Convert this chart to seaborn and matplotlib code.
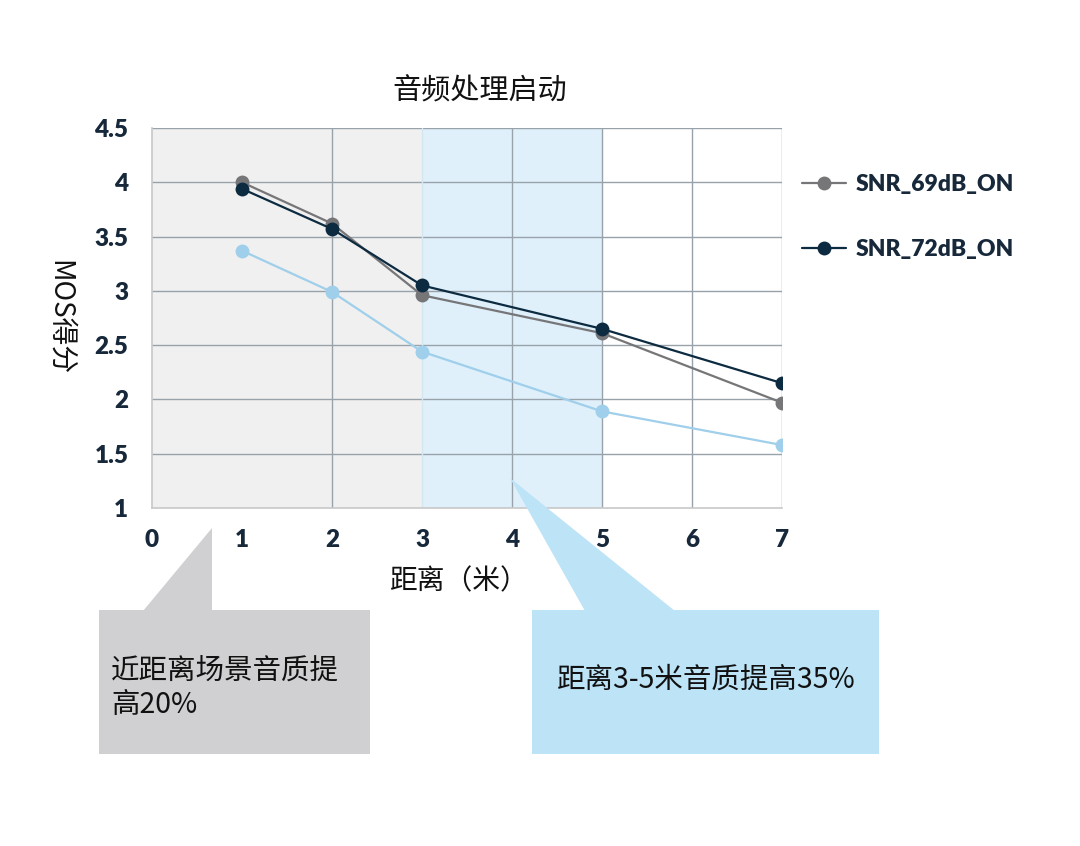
import pandas as pd
import matplotlib
matplotlib.use('Agg')
import matplotlib.pyplot as plt
from matplotlib.lines import Line2D
from matplotlib.patches import Polygon, Rectangle
import seaborn as sns

# values
distance = [1, 2, 3, 5, 7]
snr69 = [4.00, 3.62, 2.96, 2.61, 1.97]
snr72 = [3.94, 3.57, 3.05, 2.65, 2.15]
baseline = [3.37, 2.99, 2.44, 1.89, 1.58]

series_names = ['baseline', 'SNR_69dB_ON', 'SNR_72dB_ON']
colors = ['#9fcfea', '#767679', '#0c2a40']

xticks = [0, 1, 2, 3, 4, 5, 6, 7]
yticks = [1, 1.5, 2, 2.5, 3, 3.5, 4, 4.5]
ytick_labels = ['1', '1.5', '2', '2.5', '3', '3.5', '4', '4.5']

title = '音频处理启动'
xlabel = '距离（米）'
ylabel = 'MOS得分'
note_near = '近距离场景音质提\n高20%'
note_mid = '距离3-5米音质提高35%'

df = pd.DataFrame({
    'distance': distance * 3,
    'MOS': baseline + snr69 + snr72,
    'series': [s for s in series_names for _ in distance],
})

sns.set_style('white')
plt.rcParams['font.family'] = ['Noto Sans CJK SC', 'DejaVu Sans']

W, H = 1080, 846
fig = plt.figure(figsize=(10.8, 8.46), dpi=100)
ax = fig.add_axes([152 / W, 1 - 508 / H, 630 / W, 380 / H])

# shaded zones
ax.axvspan(0, 3, color='#f0f0f0', zorder=0, lw=0)
ax.axvspan(3, 5, color='#dff0fa', zorder=0, lw=0)

grid_c = '#98a2ab'
for y in yticks[1:]:
    ax.axhline(y, color=grid_c, lw=1, zorder=1)
for x in [2, 4, 5, 6, 7]:
    ax.axvline(x, color=grid_c, lw=1, zorder=1)
ax.axvline(3, color='#d4e6f0', lw=1, zorder=1)

sns.lineplot(data=df, x='distance', y='MOS', hue='series',
             hue_order=series_names, palette=colors,
             marker='o', markersize=10, markeredgewidth=0,
             linewidth=1.6, legend=False, ax=ax, zorder=3)

ax.set_xlim(0, 7)
ax.set_ylim(1, 4.5)
ax.set_xticks(xticks)
ax.set_yticks(yticks)
ax.set_yticklabels(ytick_labels)
ax.set_xlabel('')
ax.set_ylabel('')
tick_c = '#16283a'
for lab in ax.get_xticklabels() + ax.get_yticklabels():
    lab.set_family('Lato')
    lab.set_weight('heavy')
    lab.set_fontsize(17.5)
    lab.set_color(tick_c)
ax.tick_params(axis='x', length=0, pad=15)
ax.tick_params(axis='y', length=0, pad=17)
for side in ['top', 'right']:
    ax.spines[side].set_visible(False)
for side in ['left', 'bottom']:
    ax.spines[side].set_color('#c8c8c8')
    ax.spines[side].set_linewidth(1.2)

handles = [Line2D([], [], color=colors[i], marker='o', markersize=10,
                  markeredgewidth=0, lw=1.6) for i in (1, 2)]
leg = ax.legend(handles, series_names[1:], loc='upper left',
                bbox_to_anchor=(781 / W, 1 - 153 / H), bbox_transform=fig.transFigure,
                frameon=False, handlelength=1.95, handletextpad=0.4,
                labelspacing=1.95, prop={'family': 'Lato', 'weight': 'heavy', 'size': 16.5})
for t in leg.get_texts():
    t.set_color(tick_c)

fig.text(480 / W, 1 - 92 / H, title, ha='center', va='center', fontsize=21, color='#111111')
fig.text(458 / W, 1 - 581 / H, xlabel, ha='center', va='center', fontsize=20, color='#111111')
fig.text(60 / W, 1 - 318 / H, ylabel, ha='center', va='center', rotation=270,
         fontsize=20, color='#111111')

# callout boxes with pointers
gray_box = '#d0d0d2'
blue_box = '#bde3f7'
fig.add_artist(Rectangle((99 / W, 1 - 754 / H), 271 / W, 144 / H,
                         transform=fig.transFigure, color=gray_box, lw=0, zorder=5))
fig.add_artist(Polygon([(143 / W, 1 - 611 / H), (212 / W, 1 - 528 / H), (212 / W, 1 - 611 / H)],
                       transform=fig.transFigure, color=gray_box, lw=0, zorder=5))
fig.add_artist(Rectangle((532 / W, 1 - 754 / H), 347 / W, 144 / H,
                         transform=fig.transFigure, color=blue_box, lw=0, zorder=5))
fig.add_artist(Polygon([(510 / W, 1 - 478 / H), (585 / W, 1 - 611 / H), (675 / W, 1 - 611 / H)],
                       transform=fig.transFigure, color=blue_box, lw=0, zorder=5))

fig.text(111 / W, 1 - 688 / H, note_near, ha='left', va='center', fontsize=20.5,
         color='#111111', linespacing=1.2, zorder=6)
fig.text(706 / W, 1 - 680 / H, note_mid, ha='center', va='center', fontsize=20.5,
         color='#111111', zorder=6)

fig.savefig('out.png', dpi=100, facecolor='white')
